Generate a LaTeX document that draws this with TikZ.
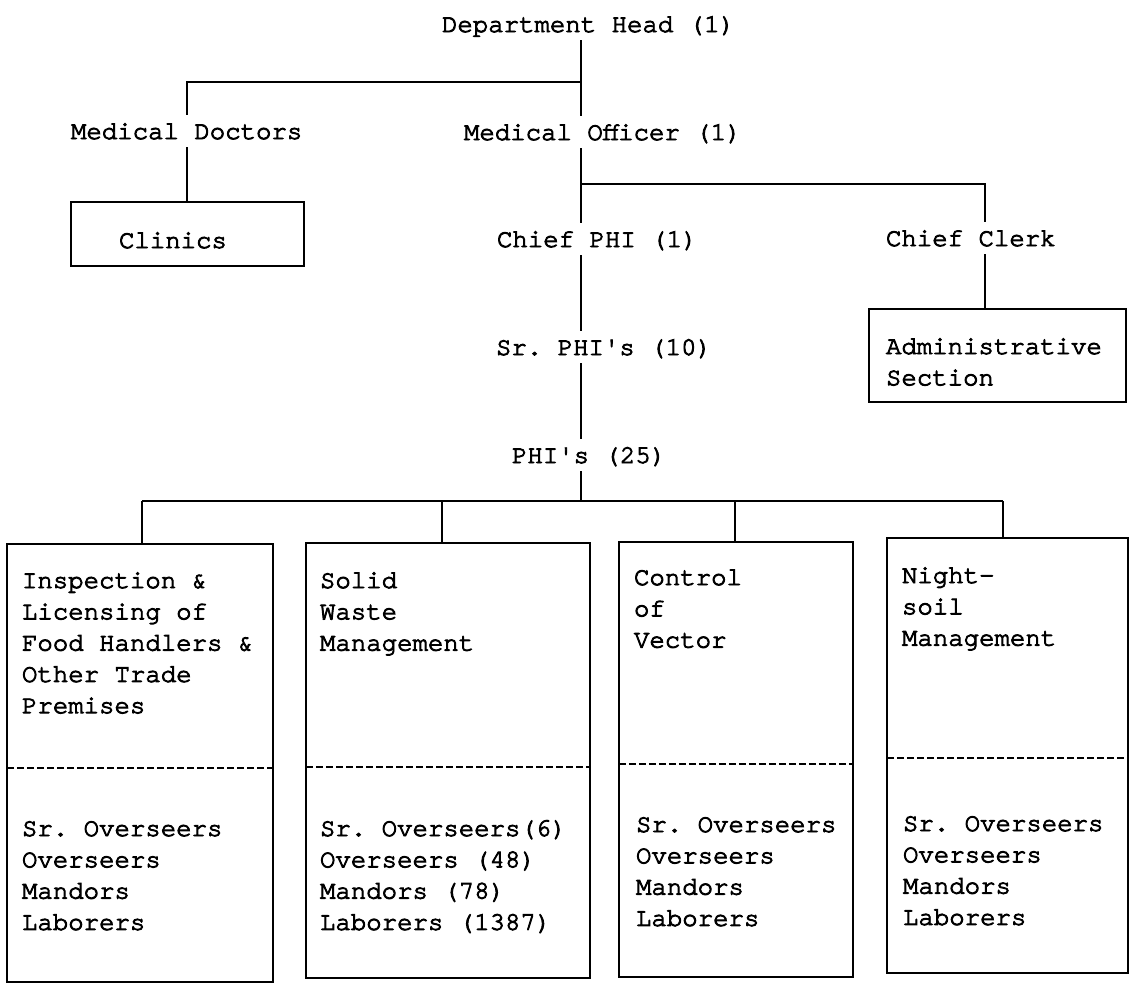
\documentclass[tikz,border=0pt]{standalone}
\usepackage{fontspec}
\setmonofont{texgyrecursor}[Extension=.otf, UprightFont=*-regular, BoldFont=*-bold]
% typewriter ink: fill and stroke the glyph outlines for a medium weight
\newcommand\inkon{\special{pdf:literal direct 2 Tr 0.9 w}}
\newcommand\inkoff{\special{pdf:literal direct 0 Tr}}
\begin{document}
\begin{tikzpicture}[x=1pt, y=-1pt,
  txt/.style={font=\fontsize{25.7}{31.3}\selectfont\ttfamily, inner xsep=0pt,
              inner ysep=8pt, outer sep=0pt, text height=16pt, text depth=0pt, anchor=base west,
              execute at begin node=\inkon, execute at end node=\inkoff},
  block/.style={font=\fontsize{25.7}{31.3}\selectfont\ttfamily, inner sep=0pt,
                outer sep=0pt, anchor=base west,
                execute at begin node=\inkon, execute at end node=\inkoff},
  frame/.style={draw, line width=1.9pt, inner sep=0pt, outer sep=0pt, anchor=north west},
  conn/.style={line width=2pt},
  divider/.style={line width=1.3pt, dash pattern=on 7pt off 3pt}]
\useasboundingbox (0,0) rectangle (1131,986);

% ---- labels standing on the connector lines
\node[txt] (dh)   at (442,32)  {Department Head (1)};
\node[txt] (md)   at (71,139)  {Medical Doctors};
\node[txt] (mo)   at (464,140) {Medical Officer (1)};
\node[txt] (cphi) at (497,247) {Chief PHI (1)};
\node[txt] (cc)   at (886,246) {Chief Clerk};
\node[txt] (sphi) at (496,355) {Sr. PHI's (10)};
\node[txt] (phi)  at (512,463) {PHI's (25)};

% ---- boxed units
\node[frame, minimum width=233pt, minimum height=64pt] (clbox) at (71,202) {};
\node[block] (cltxt) at (119,248) {Clinics};

\node[frame, minimum width=257pt, minimum height=93pt] (adbox) at (869,309) {};
\node[block] (adtxt) at (886,354) {\vtop{\hbox{Administrative}\hbox{Section}}};

% ---- the four field sections
\node[frame, minimum width=266pt, minimum height=438pt] (b1) at (7,544) {};
\node[frame, minimum width=284pt, minimum height=435pt] (b2) at (306,543) {};
\node[frame, minimum width=234pt, minimum height=435pt] (b3) at (619,542) {};
\node[frame, minimum width=241pt, minimum height=435pt] (b4) at (887,538) {};

\draw[divider] ([yshift=-224pt]b1.north west) -- ([yshift=-224pt]b1.north east);
\draw[divider] ([yshift=-224pt]b2.north west) -- ([yshift=-224pt]b2.north east);
\draw[divider] ([yshift=-222pt]b3.north west) -- ([yshift=-222pt]b3.north east);
\draw[divider] ([yshift=-220pt]b4.north west) -- ([yshift=-220pt]b4.north east);

\node[block] (b1a) at (22,588)  {\vtop{\hbox{Inspection \&}\hbox{Licensing of}\hbox{Food Handlers \&}\hbox{Other Trade}\hbox{Premises}}};
\node[block] (b1b) at (22,836)  {\vtop{\hbox{Sr. Overseers}\hbox{Overseers}\hbox{Mandors}\hbox{Laborers}}};
\node[block] (b2a) at (320,588) {\vtop{\hbox{Solid}\hbox{Waste}\hbox{Management}}};
\node[block] (b2b) at (320,836) {\vtop{\hbox{Sr. Overseers(6)}\hbox{Overseers (48)}\hbox{Mandors (78)}\hbox{Laborers (1387)}}};
\node[block] (b3a) at (634,585) {\vtop{\hbox{Control}\hbox{of}\hbox{Vector}}};
\node[block] (b3b) at (636,832) {\vtop{\hbox{Sr. Overseers}\hbox{Overseers}\hbox{Mandors}\hbox{Laborers}}};
\node[block] (b4a) at (902,583) {\vtop{\hbox{Night-}\hbox{soil}\hbox{Management}}};
\node[block] (b4b) at (903,831) {\vtop{\hbox{Sr. Overseers}\hbox{Overseers}\hbox{Mandors}\hbox{Laborers}}};

% ---- connector geometry
\coordinate (t)   at (581,0);
\coordinate (j1)  at (581,82);
\coordinate (mdx) at (187,0);
\coordinate (j2)  at (581,184);
\coordinate (ccx) at (985,0);
\coordinate (bus) at (581,501);
\coordinate (v1)  at (142,501);
\coordinate (v2)  at (442,501);
\coordinate (v3)  at (735,501);
\coordinate (v4)  at (1003,501);

\draw[conn] (dh.south -| t) -- (mo.north -| t);
\draw[conn] (j1) -| (md.north -| mdx);
\draw[conn] (md.south -| mdx) -- (clbox.north -| mdx);
\draw[conn] (mo.south -| t) -- (cphi.north -| t);
\draw[conn] (j2) -| (cc.north -| ccx);
\draw[conn] (cc.south -| ccx) -- (adbox.north -| ccx);
\draw[conn] (cphi.south -| t) -- (sphi.north -| t);
\draw[conn] (sphi.south -| t) -- (phi.north -| t);
\draw[conn] (phi.south -| t) -- (bus);
\draw[conn] (v1) -- (v4);
\draw[conn] (v1) -- (b1.north -| v1);
\draw[conn] (v2) -- (b2.north -| v2);
\draw[conn] (v3) -- (b3.north -| v3);
\draw[conn] (v4) -- (b4.north -| v4);
\end{tikzpicture}
\end{document}
